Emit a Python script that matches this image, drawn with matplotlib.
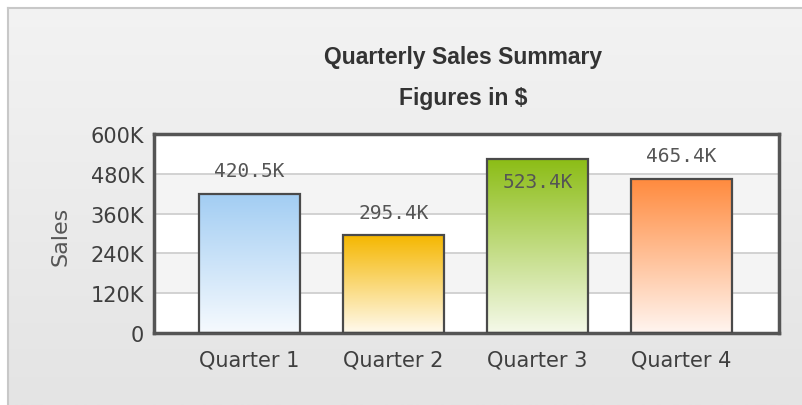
import matplotlib.pyplot as plt
import numpy as np
from matplotlib.colors import LinearSegmentedColormap
from matplotlib.patches import Rectangle

quarters = ["Quarter 1", "Quarter 2", "Quarter 3", "Quarter 4"]
sales = [420500, 295400, 523400, 465400]
value_labels = ["420.5K", "295.4K", "523.4K", "465.4K"]
tick_values = [0, 120000, 240000, 360000, 480000, 600000]
tick_labels = ["0", "120K", "240K", "360K", "480K", "600K"]
top_colors = ["#a2cdf3", "#f5b700", "#8cbd16", "#ff8a3d"]
bottom_colors = ["#f6fafe", "#fffaee", "#f5f9ea", "#fff5f0"]


def main() -> None:
    fig = plt.figure(figsize=(8.02, 4.06), dpi=100)
    fig.patch.set_facecolor("white")

    # background panel, light vertical gradient
    bg = fig.add_axes([0, 0, 1, 1], zorder=-10)
    bg.set_axis_off()
    grad = np.linspace(0, 1, 200)[:, None]
    bg_cmap = LinearSegmentedColormap.from_list("bg", ["#e4e4e4", "#f3f3f3"])
    bg.imshow(grad, cmap=bg_cmap, extent=[0, 1, 0, 1], origin="lower", aspect="auto")
    bg.set_xlim(0, 1)
    bg.set_ylim(0, 1)
    bg.add_patch(Rectangle((0, 0), 7 / 802, 1, color="white"))
    bg.add_patch(Rectangle((0, 1 - 8 / 406), 1, 8 / 406, color="white"))
    bg.plot([8 / 802, 8 / 802], [0, 1 - 9 / 406], color="#c8c8c8", lw=1.5)
    bg.plot([8 / 802, 1], [1 - 9 / 406, 1 - 9 / 406], color="#c8c8c8", lw=1.5)

    ax = fig.add_axes([154 / 802, 1 - 334 / 406, 625 / 802, 199 / 406])
    x = np.arange(len(quarters))
    ax.set_xlim(-0.663, 3.677)
    ax.set_ylim(0, 600000)

    for i in range(len(tick_values) - 1):
        shade = "white" if i % 2 == 0 else "#f4f4f4"
        ax.axhspan(tick_values[i], tick_values[i + 1], color=shade, zorder=0, lw=0)
    for t in tick_values[1:-1]:
        ax.axhline(t, color="#cfcfcf", lw=1.3, zorder=1)

    bars = ax.bar(x, sales, width=0.70, facecolor="none", edgecolor="#4a4a4a",
                  lw=1.6, zorder=3)
    for bar, top, bottom in zip(bars, top_colors, bottom_colors):
        cmap = LinearSegmentedColormap.from_list("g", [bottom, top])
        x0 = bar.get_x()
        x1 = x0 + bar.get_width()
        h = bar.get_height()
        img = ax.imshow(np.linspace(0, 1, 256)[:, None], cmap=cmap, origin="lower",
                        extent=[x0, x1, 0, h], aspect="auto", zorder=2)
        img.set_clip_path(bar)

    for xi, v, lab in zip(x, sales, value_labels):
        if v > 500000:
            y = v - 67000
        else:
            y = v + 69000
        ax.text(xi, y, lab, ha="center", va="center", fontsize=14,
                family="DejaVu Sans Mono", color="#555555", zorder=4)

    ax.set_xticks(x)
    ax.set_xticklabels(quarters, fontsize=15, color="#3f3f3f")
    ax.set_yticks(tick_values)
    ax.set_yticklabels(tick_labels, fontsize=15, color="#3f3f3f")
    ax.tick_params(length=0, pad=7)
    ax.tick_params(axis="x", pad=12)
    for spine in ax.spines.values():
        spine.set_color("#555555")
        spine.set_linewidth(2.5)

    fig.text(60 / 802, 1 - 236 / 406, "Sales", rotation=90, ha="center",
             va="center", fontsize=16, color="#555555")
    fig.text(463 / 802, 1 - 58 / 406, "Quarterly Sales Summary", ha="center",
             va="center", fontsize=16.5, fontweight="bold", color="#333333",
             family="Liberation Sans")
    fig.text(463 / 802, 1 - 98 / 406, "Figures in $", ha="center",
             va="center", fontsize=16.5, fontweight="bold", color="#333333",
             family="Liberation Sans")

    fig.savefig("out.png", dpi=100)


if __name__ == "__main__":
    main()
